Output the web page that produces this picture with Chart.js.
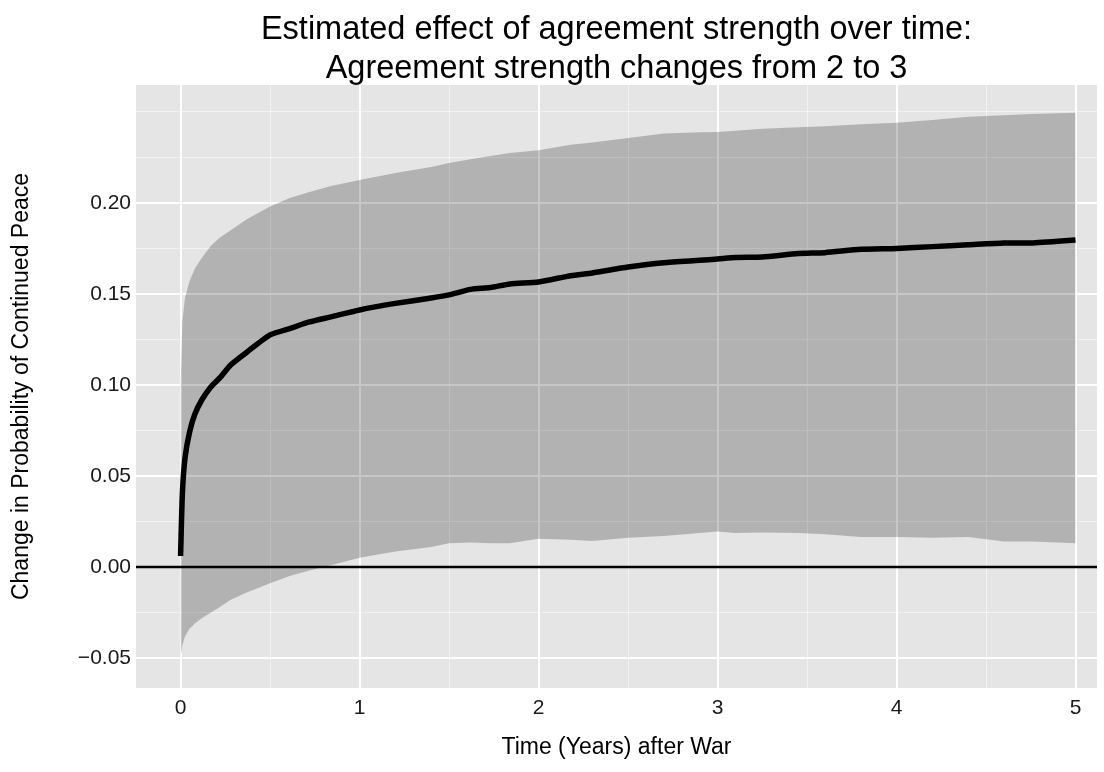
<!DOCTYPE html>
<html><head><meta charset="utf-8">
<script src="https://cdn.jsdelivr.net/npm/chart.js@4.4.1/dist/chart.umd.min.js"></script>
<style>html,body{margin:0;padding:0;background:#fff;}#wrap{width:1104px;height:772px;}</style>
</head><body><div id="wrap"><canvas id="c" width="1104" height="772"></canvas></div>
<script>
const timeYears = [0, 0.01, 0.025, 0.05, 0.08, 0.12, 0.17, 0.22, 0.28, 0.37, 0.5, 0.61, 0.72, 0.84, 1.0, 1.2, 1.4, 1.5, 1.62, 1.73, 1.84, 2.0, 2.18, 2.3, 2.5, 2.7, 2.9, 3.0, 3.1, 3.25, 3.45, 3.6, 3.8, 4.0, 4.2, 4.4, 4.6, 4.75, 5.0];
const meanEffect = [0.006, 0.040, 0.060, 0.074, 0.084, 0.092, 0.099, 0.104, 0.111, 0.118, 0.1275, 0.131, 0.1346, 0.1374, 0.1412, 0.1448, 0.1478, 0.1495, 0.1525, 0.1535, 0.1555, 0.1566, 0.160, 0.1615, 0.1648, 0.1672, 0.1685, 0.1692, 0.170, 0.1703, 0.1722, 0.1727, 0.1745, 0.175, 0.176, 0.177, 0.178, 0.178, 0.1797];
const upperCI = [0.100, 0.135, 0.148, 0.157, 0.164, 0.170, 0.1765, 0.181, 0.185, 0.191, 0.198, 0.2027, 0.206, 0.2093, 0.2126, 0.2165, 0.2198, 0.222, 0.224, 0.2258, 0.2275, 0.229, 0.232, 0.2332, 0.2357, 0.2382, 0.2388, 0.239, 0.2396, 0.2407, 0.2416, 0.2422, 0.2432, 0.244, 0.2456, 0.2473, 0.2482, 0.2488, 0.2495];
const lowerCI = [-0.050, -0.043, -0.038, -0.034, -0.031, -0.028, -0.025, -0.022, -0.018, -0.014, -0.009, -0.005, -0.002, 0.001, 0.005, 0.0085, 0.011, 0.013, 0.0135, 0.013, 0.013, 0.0155, 0.015, 0.0143, 0.016, 0.017, 0.0187, 0.0195, 0.0187, 0.019, 0.0187, 0.018, 0.0165, 0.0165, 0.016, 0.0165, 0.014, 0.014, 0.013];
const xTicks = [0, 0.5, 1, 1.5, 2, 2.5, 3, 3.5, 4, 4.5, 5];
const xLabels = [0, 1, 2, 3, 4, 5];
const yTicks = [-0.05, -0.025, 0, 0.025, 0.05, 0.075, 0.1, 0.125, 0.15, 0.175, 0.2, 0.225, 0.25];
const yLabels = [-0.05, 0, 0.05, 0.1, 0.15, 0.2];
const titleLines = ['Estimated effect of agreement strength over time:', 'Agreement strength changes from 2 to 3'];
const xTitle = 'Time (Years) after War';
const yTitle = 'Change in Probability of Continued Peace';

const FONT = '"Liberation Sans", Arial, Helvetica, sans-serif';
const near = (a, b) => Math.abs(a - b) < 1e-9;
const isIn = (arr, v) => arr.some(a => near(a, v));
const pts = (ys) => timeYears.map((t, i) => ({x: t, y: ys[i]}));

const panelBg = {
  id: 'panelBg',
  beforeDraw(chart) {
    const {ctx, chartArea: a} = chart;
    ctx.save();
    ctx.fillStyle = '#E5E5E5';
    ctx.fillRect(a.left, a.top, a.right - a.left, a.bottom - a.top);
    ctx.restore();
  }
};
const zeroLine = {
  id: 'zeroLine',
  afterDatasetsDraw(chart) {
    const {ctx, chartArea: a, scales} = chart;
    const y = scales.y.getPixelForValue(0);
    ctx.save();
    ctx.strokeStyle = '#000';
    ctx.lineWidth = 2.6;
    ctx.beginPath();
    ctx.moveTo(a.left, y);
    ctx.lineTo(a.right, y);
    ctx.stroke();
    ctx.restore();
  }
};
const twoLineTitle = {
  id: 'twoLineTitle',
  afterDraw(chart) {
    const {ctx, chartArea: a} = chart;
    const cx = (a.left + a.right) / 2;
    ctx.save();
    ctx.fillStyle = '#000';
    ctx.font = '32.5px ' + FONT;
    ctx.textAlign = 'center';
    ctx.textBaseline = 'alphabetic';
    ctx.fillText(titleLines[0], cx, 39);
    ctx.fillText(titleLines[1], cx, 78);
    ctx.restore();
  }
};

new Chart(document.getElementById('c'), {
  type: 'line',
  data: {
    datasets: [
      {label: 'lower', data: pts(lowerCI), borderColor: 'rgba(0,0,0,0)', borderWidth: 0, pointRadius: 0, fill: false},
      {label: 'upper', data: pts(upperCI), borderColor: 'rgba(0,0,0,0)', borderWidth: 0, pointRadius: 0, fill: '-1', backgroundColor: 'rgba(0,0,0,0.22)'},
      {label: 'mean', data: pts(meanEffect), borderColor: '#000', borderWidth: 5.5, pointRadius: 0, fill: false, tension: 0.2, borderCapStyle: 'butt', borderJoinStyle: 'round'}
    ]
  },
  options: {
    responsive: false,
    animation: false,
    devicePixelRatio: 1,
    layout: {padding: {left: 0, right: 7, top: 85, bottom: 0}},
    plugins: {legend: {display: false}, tooltip: {enabled: false}, title: {display: false}},
    scales: {
      x: {
        type: 'linear',
        min: -0.249, max: 5.12,
        afterBuildTicks: (s) => { s.ticks = xTicks.map(v => ({value: v})); },
        afterFit: (s) => { s.height = 84; },
        border: {display: false},
        grid: {
          drawTicks: false,
          color: (c) => isIn(xLabels, c.tick.value) ? '#FFFFFF' : 'rgba(255,255,255,0.5)',
          lineWidth: (c) => isIn(xLabels, c.tick.value) ? 2 : 1
        },
        ticks: {
          autoSkip: false, maxRotation: 0, padding: 8, color: '#1a1a1a',
          font: {family: FONT, size: 21},
          callback: (v) => isIn(xLabels, v) ? String(Math.round(v)) : ''
        },
        title: {display: true, text: xTitle, color: '#000', font: {family: FONT, size: 23}, padding: {top: 0, bottom: 11}}
      },
      y: {
        type: 'linear',
        min: -0.0665, max: 0.2648,
        afterBuildTicks: (s) => { s.ticks = yTicks.map(v => ({value: v})); },
        afterFit: (s) => { s.width = 136; },
        border: {display: false},
        grid: {
          drawTicks: false,
          color: (c) => isIn(yLabels, c.tick.value) ? '#FFFFFF' : 'rgba(255,255,255,0.5)',
          lineWidth: (c) => isIn(yLabels, c.tick.value) ? 2 : 1
        },
        ticks: {
          autoSkip: false, padding: 5, color: '#1a1a1a',
          font: {family: FONT, size: 21},
          callback: (v) => isIn(yLabels, v) ? (v < 0 ? '\u2212' + Math.abs(v).toFixed(2) : v.toFixed(2)) : ''
        },
        title: {display: true, text: yTitle, color: '#000', font: {family: FONT, size: 23}, padding: {top: 8, bottom: 0}}
      }
    }
  },
  plugins: [panelBg, zeroLine, twoLineTitle]
});
</script></body></html>
